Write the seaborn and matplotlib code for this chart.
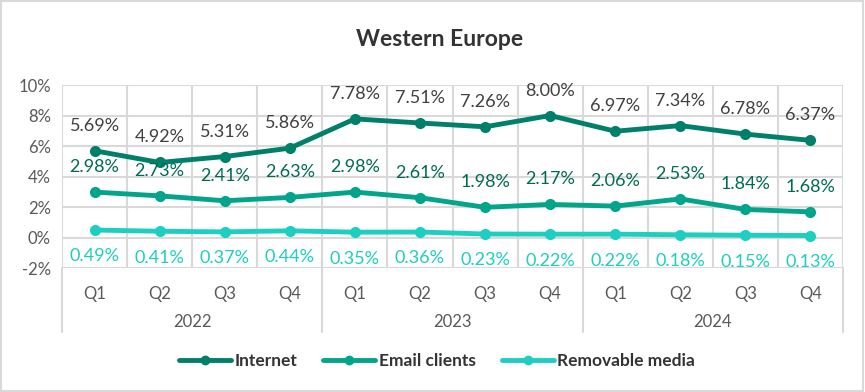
import numpy as np
import pandas as pd
import matplotlib.pyplot as plt
import seaborn as sns
from matplotlib.lines import Line2D
from matplotlib.patches import Rectangle
import matplotlib.transforms as mtransforms

quarters = ['Q1', 'Q2', 'Q3', 'Q4'] * 3
years = ['2022', '2023', '2024']
internet = [5.69, 4.92, 5.31, 5.86, 7.78, 7.51, 7.26, 8.00, 6.97, 7.34, 6.78, 6.37]
email = [2.98, 2.73, 2.41, 2.63, 2.98, 2.61, 1.98, 2.17, 2.06, 2.53, 1.84, 1.68]
removable = [0.49, 0.41, 0.37, 0.44, 0.35, 0.36, 0.23, 0.22, 0.22, 0.18, 0.15, 0.13]
series_names = ['Internet', 'Email clients', 'Removable media']
line_colors = ['#00806A', '#00A58B', '#1CCFC0']
label_colors = ['#404040', '#006B55', '#1CCFC0']
label_offsets = [18, 18, -19]

sns.set_theme(style='white')
plt.rcParams['font.family'] = ['Lato', 'DejaVu Sans']

idx = np.arange(len(quarters))
df = pd.concat([
    pd.DataFrame({'pos': idx, 'value': vals, 'series': name})
    for name, vals in zip(series_names, [internet, email, removable])
])

fig = plt.figure(figsize=(8.65, 3.92), dpi=100)
ax = fig.add_axes([0.0717, 0.3163, 0.9029, 0.4668])

sns.lineplot(data=df, x='pos', y='value', hue='series', hue_order=series_names,
             palette=line_colors, marker='o', markersize=8, markeredgewidth=0,
             linewidth=3.5, legend=False, ax=ax, zorder=3)

# data labels
for name, col, off in zip(series_names, label_colors, label_offsets):
    sub = df[df['series'] == name]
    for x, v in zip(sub['pos'], sub['value']):
        ax.annotate(f'{v:.2f}%', (x, v), xytext=(0, off), textcoords='offset points',
                    ha='center', va='center', fontsize=13, color=col, zorder=4)

ax.set_xlim(-0.5, len(quarters) - 0.5)
ax.set_ylim(-2, 10)
ax.set_yticks(np.arange(-2, 11, 2))
ax.set_yticklabels([f'{t}%' for t in range(-2, 11, 2)], fontsize=12, color='#595959')
ax.set_xticks(idx)
ax.set_xticklabels(quarters, fontsize=12, color='#595959')
ax.set_xticks(np.arange(-0.5, len(quarters), 1), minor=True)
ax.tick_params(axis='both', which='both', length=0)
ax.tick_params(axis='x', pad=13)
ax.tick_params(axis='y', pad=8)
ax.set_xlabel('')
ax.set_ylabel('')
ax.grid(axis='y', which='major', color='#D9D9D9', linewidth=1.5)
ax.grid(axis='x', which='minor', color='#D9D9D9', linewidth=1.5)
ax.grid(axis='x', which='major', visible=False)
for s in ax.spines.values():
    s.set_visible(False)
ax.axhline(-2, color='#D9D9D9', linewidth=2, zorder=1)

# year group labels and separators
trans = mtransforms.blended_transform_factory(ax.transData, ax.transAxes)
for i, yr in enumerate(years):
    ax.text(i * 4 + 1.5, -0.295, yr, transform=trans, ha='center', va='center',
            fontsize=12, color='#595959')
for b in range(len(years) + 1):
    ax.plot([b * 4 - 0.5] * 2, [0, -0.35], transform=trans, color='#D9D9D9',
            linewidth=1.5, clip_on=False)

fig.text(0.508, 0.9, 'Western Europe', ha='center', va='center', fontsize=16.5,
         fontweight='bold', color='#333333')

handles = [Line2D([0], [0], color=c, linewidth=3.5, marker='o', markersize=6)
           for c in line_colors]
leg = fig.legend(handles, series_names, loc='center', bbox_to_anchor=(0.505, 0.08),
                 ncol=3, frameon=False, handlelength=3, handletextpad=0.2,
                 columnspacing=1.5, prop={'weight': 'bold', 'size': 12.5})
for t in leg.get_texts():
    t.set_color('#333333')

fig.patches.append(Rectangle((0.001, 0.002), 0.997, 0.995, transform=fig.transFigure,
                             fill=False, edgecolor='#D9D9D9', linewidth=1.5))

fig.savefig('out.png', dpi=100)
